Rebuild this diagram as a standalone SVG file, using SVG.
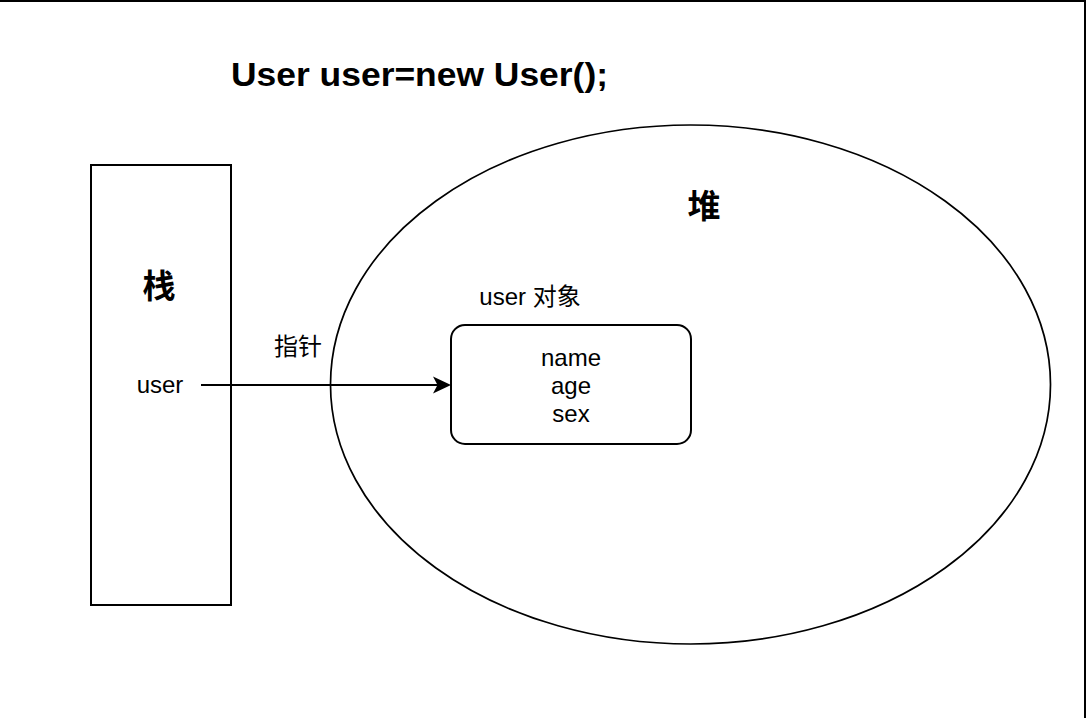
<svg xmlns="http://www.w3.org/2000/svg" width="1086" height="718" viewBox="0 0 1086 718">
<style>
.t{font-family:"Liberation Sans","Noto Sans CJK SC",Arial,sans-serif;font-size:24px;fill:#000;text-anchor:middle}
.b{font-weight:bold;font-size:33px}
.s{fill:none;stroke:#000;stroke-width:2}
</style>
<rect width="1086" height="718" fill="#fff"/>
<g id="frame">
<line x1="0" y1="1" x2="1086" y2="1" stroke="#000" stroke-width="2"/>
<line x1="1085" y1="0" x2="1085" y2="718" stroke="#000" stroke-width="2"/>
</g>
<g id="title">
<text class="t" x="231" y="86" style="font-weight:bold;font-size:34px;text-anchor:start" textLength="377" lengthAdjust="spacingAndGlyphs">User user=new User();</text>
</g>
<g id="stack">
<rect class="s" x="91" y="165" width="140" height="440"/>
<text class="t b" x="159" y="298">栈</text>
<text class="t" x="160" y="393">user</text>
</g>
<g id="heap">
<ellipse class="s" cx="690.5" cy="384.5" rx="360" ry="259.5" style="stroke-width:1.7"/>
<text class="t b" x="704" y="218">堆</text>
<text class="t" x="530" y="305">user 对象</text>
</g>
<g id="object">
<rect class="s" x="451" y="325" width="240" height="119" rx="14" ry="14"/>
<text class="t" x="571" y="366">name</text>
<text class="t" x="571" y="394">age</text>
<text class="t" x="571" y="422">sex</text>
</g>
<g id="connectors">
<line x1="201" y1="385" x2="440" y2="385" stroke="#000" stroke-width="2"/>
<path d="M451,385 L433,376.5 L437.5,385 L433,393.5 Z" fill="#000"/>
<text class="t" x="298" y="355">指针</text>
</g>
</svg>
